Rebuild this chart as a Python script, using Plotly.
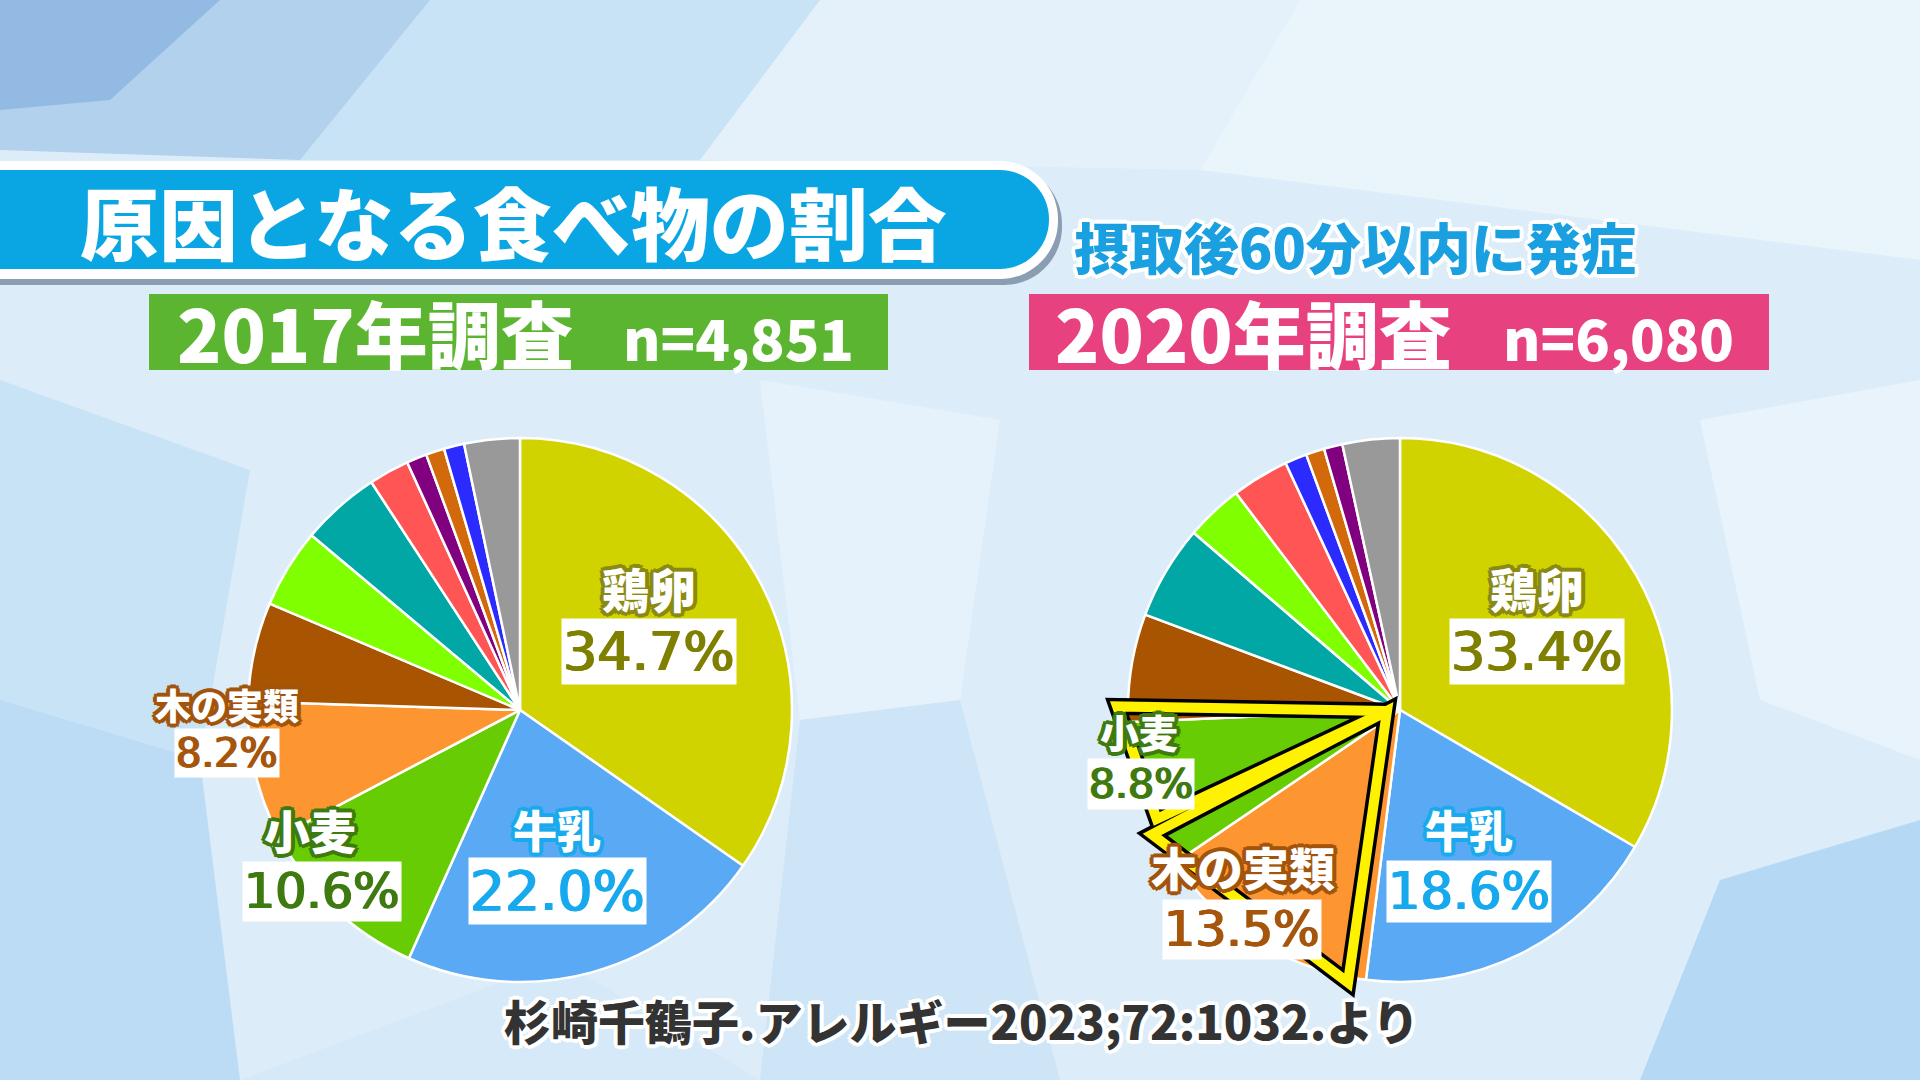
import math
import plotly.graph_objects as go

W, H = 1920, 1080

# --- data ---
cats_2017 = ["鶏卵", "牛乳", "小麦", "木の実類", "落花生", "果物", "魚卵", "甲殻類", "魚類", "大豆", "ソバ", "その他"]
vals_2017 = [34.7, 22.0, 10.6, 8.2, 5.9, 4.7, 4.7, 2.4, 1.2, 1.1, 1.2, 3.3]

cats_2020 = ["鶏卵", "牛乳", "木の実類", "小麦", "落花生", "魚卵", "果物", "甲殻類", "ソバ", "大豆", "魚類", "その他"]
vals_2020 = [33.4, 18.6, 13.5, 8.8, 6.4, 5.6, 3.4, 3.4, 1.3, 1.1, 1.1, 3.4]

n_2017 = "4,851"
n_2020 = "6,080"

cat_colors = {
    "鶏卵": "#d1d300", "牛乳": "#5aa9f5", "小麦": "#68cc04", "木の実類": "#fd9630",
    "落花生": "#a85400", "果物": "#80ff00", "魚卵": "#00a7a5", "甲殻類": "#ff5555",
    "魚類": "#800080", "大豆": "#d2690a", "ソバ": "#2b2bff", "その他": "#999999",
}
# label styling: (outline colour of name, colour of percent text)
label_style = {
    "鶏卵": ("#8a8a12", "#7f7f00"),
    "牛乳": ("#19a9ec", "#17a9ee"),
    "小麦": ("#3d7a10", "#3f7a10"),
    "木の実類": ("#a3540c", "#a5560c"),
}

JP = "Noto Sans CJK JP"
NUM = "DejaVu Sans"

# pie geometry in screen pixels
R = 272
centers = {"2017": (520, 710), "2020": (1400, 710)}


def px(x, y):
    return x / W, 1 - y / H


def pstr(x, y):
    a, b = px(x, y)
    return f"{a:.5f},{b:.5f}"


def outline(c, w=3):
    s = []
    for dx, dy in [(w, 0), (-w, 0), (0, w), (0, -w), (w - 1, w - 1), (1 - w, 1 - w), (w - 1, 1 - w), (1 - w, w - 1)]:
        s.append(f"{dx}px {dy}px 0 {c}")
    return ", ".join(s)


def domain(cx, cy):
    return dict(x=[(cx - R) / W, (cx + R) / W], y=[1 - (cy + R) / H, 1 - (cy - R) / H])


fig = go.Figure()
for key, cats, vals in [("2017", cats_2017, vals_2017), ("2020", cats_2020, vals_2020)]:
    cx, cy = centers[key]
    fig.add_trace(go.Pie(
        labels=cats, values=vals, sort=False, direction="clockwise", rotation=0,
        marker=dict(colors=[cat_colors[c] for c in cats], line=dict(color="white", width=2.5)),
        textinfo="none", hovertemplate="%{label}: %{value}%<extra>" + key + "</extra>",
        domain=domain(cx, cy), showlegend=False, name=key,
    ))

shapes = []

# background facets
facets = [
    ([(0, 0), (430, 0), (300, 160), (0, 150)], "rgba(80,145,210,0.30)"),
    ([(0, 0), (220, 0), (110, 100), (0, 110)], "rgba(60,120,200,0.25)"),
    ([(430, 0), (820, 0), (700, 160), (300, 160)], "rgba(130,185,235,0.22)"),
    ([(820, 0), (1300, 0), (1200, 170), (700, 160)], "rgba(255,255,255,0.25)"),
    ([(1300, 0), (1920, 0), (1920, 260), (1200, 170)], "rgba(255,255,255,0.40)"),
    ([(0, 380), (250, 470), (200, 760), (0, 700)], "rgba(150,200,240,0.28)"),
    ([(0, 700), (200, 760), (240, 1080), (0, 1080)], "rgba(120,185,235,0.32)"),
    ([(760, 380), (1000, 420), (960, 700), (800, 720)], "rgba(255,255,255,0.30)"),
    ([(800, 720), (960, 700), (1060, 1080), (760, 1080)], "rgba(170,210,240,0.28)"),
    ([(1700, 420), (1920, 380), (1920, 760), (1760, 700)], "rgba(255,255,255,0.35)"),
    ([(1720, 880), (1920, 820), (1920, 1080), (1640, 1080)], "rgba(110,180,235,0.35)"),
    ([(240, 1080), (560, 960), (760, 1080)], "rgba(200,225,245,0.35)"),
]
for pts, col in facets:
    path = "M " + " L ".join(pstr(x, y) for x, y in pts) + " Z"
    shapes.append(dict(type="path", xref="paper", yref="paper", path=path,
                       fillcolor=col, line=dict(width=0), layer="below"))


def banner(x0, x1, y0, y1, r):
    k = 0.45
    return ("M " + pstr(x0, y0) + " L " + pstr(x1 - r, y0) +
            " C " + pstr(x1 - r * k, y0) + " " + pstr(x1, y0 + r * k) + " " + pstr(x1, y0 + r) +
            " L " + pstr(x1, y1 - r) +
            " C " + pstr(x1, y1 - r * k) + " " + pstr(x1 - r * k, y1) + " " + pstr(x1 - r, y1) +
            " L " + pstr(x0, y1) + " Z")


shapes.append(dict(type="path", xref="paper", yref="paper", path=banner(-20, 1062, 166, 285, 58),
                   fillcolor="rgba(40,60,90,0.45)", line=dict(width=0), layer="below"))
shapes.append(dict(type="path", xref="paper", yref="paper", path=banner(-20, 1058, 161, 279, 58),
                   fillcolor="white", line=dict(width=0), layer="below"))
shapes.append(dict(type="path", xref="paper", yref="paper", path=banner(-20, 1049, 170, 269, 49),
                   fillcolor="#09a6e3", line=dict(width=0), layer="below"))

# survey header boxes
for (x0, x1), col in [((149, 888), "#5cb531"), ((1029, 1769), "#e8417f")]:
    a0, b0 = px(x0, 370)
    a1, b1 = px(x1, 294)
    shapes.append(dict(type="rect", xref="paper", yref="paper", x0=a0, x1=a1, y0=b0, y1=b1,
                       fillcolor=col, line=dict(width=0), layer="below"))


# highlight of 木の実類 and 小麦 in the 2020 pie, built from the slice geometry
def pie_point(key, frac, k):
    cx, cy = centers[key]
    t = 2 * math.pi * frac
    return cx + k * R * math.sin(t), cy - k * R * math.cos(t)


cum = []
s = 0
for v in vals_2020:
    cum.append(s / sum(vals_2020))
    s += v
i_nut = cats_2020.index("木の実類")
i_wht = cats_2020.index("小麦")
apex = (centers["2020"][0] - 13, centers["2020"][1] + 1)
tri_wheat = [apex, pie_point("2020", cum[i_wht + 1] + 0.009, 1.04), pie_point("2020", cum[i_wht] + 0.028, 0.98)]
tri_nut = [apex, pie_point("2020", cum[i_wht] + 0.021, 1.02), pie_point("2020", cum[i_nut] + 0.010, 1.02)]
for col, wd in [("black", 17), ("#fff200", 10)]:
    for tri in (tri_wheat, tri_nut):
        path = "M " + " L ".join(pstr(x, y) for x, y in tri) + " Z"
        shapes.append(dict(type="path", xref="paper", yref="paper", path=path,
                           line=dict(color=col, width=wd), layer="above"))

ann = []


def text(x, y, t, size, color, family=JP, weight=900, shadow=None, bg=None, xanchor="center", pad=0):
    a, b = px(x, y)
    f = dict(family=family, size=size, color=color, weight=weight)
    if shadow:
        f["shadow"] = shadow
    d = dict(x=a, y=b, xref="paper", yref="paper", text=t, showarrow=False, font=f,
             xanchor=xanchor, yanchor="middle", borderpad=pad)
    if bg:
        d["bgcolor"] = bg
    ann.append(d)


text(513, 221, "原因となる食べ物の割合", 79, "white")
text(1355, 245, "摂取後60分以内に発症", 55, "#1a9fe0", shadow=outline("white", 4))
text(176, 331, "2017年調査", 73, "white", xanchor="left")
text(622, 336, "n=" + n_2017, 57, "white", xanchor="left")
text(1054, 331, "2020年調査", 73, "white", xanchor="left")
text(1502, 336, "n=" + n_2020, 57, "white", xanchor="left")
text(961, 1019, "杉崎千鶴子.アレルギー2023;72:1032.より", 47, "#333333", shadow=outline("white", 4))

# slice labels: (category, name pos, name size, pct pos, pct size)
labels_2017 = [
    ("鶏卵", (649, 587), 47, (649, 651), 54),
    ("牛乳", (557, 829), 44, (557, 891), 55),
    ("小麦", (310, 829), 46, (322, 891), 49),
    ("木の実類", (227, 704), 36, (227, 753), 40),
]
labels_2020 = [
    ("鶏卵", (1537, 587), 47, (1537, 651), 54),
    ("牛乳", (1469, 829), 44, (1469, 891), 51),
    ("小麦", (1139, 731), 39, (1141, 784), 41),
    ("木の実類", (1243, 866), 46, (1242, 929), 49),
]
for labs, cats, vals in [(labels_2017, cats_2017, vals_2017), (labels_2020, cats_2020, vals_2020)]:
    for cat, npos, nsz, ppos, psz in labs:
        oc, pc = label_style[cat]
        text(npos[0], npos[1], cat, nsz, "white", shadow=outline(oc, 4))
        v = vals[cats.index(cat)]
        text(ppos[0], ppos[1], f"{v:.1f}%", psz, pc, family=NUM, weight=400,
             shadow=f"1px 0 0 {pc}, -1px 0 0 {pc}", bg="white", pad=1)

fig.update_layout(
    width=W, height=H, margin=dict(l=0, r=0, t=0, b=0),
    paper_bgcolor="#dcedf9", plot_bgcolor="#dcedf9",
    shapes=shapes, annotations=ann, showlegend=False,
)
fig.write_html("out.html", config={"displayModeBar": False},
               post_script="document.body.style.margin='0';document.body.style.overflow='hidden';")
